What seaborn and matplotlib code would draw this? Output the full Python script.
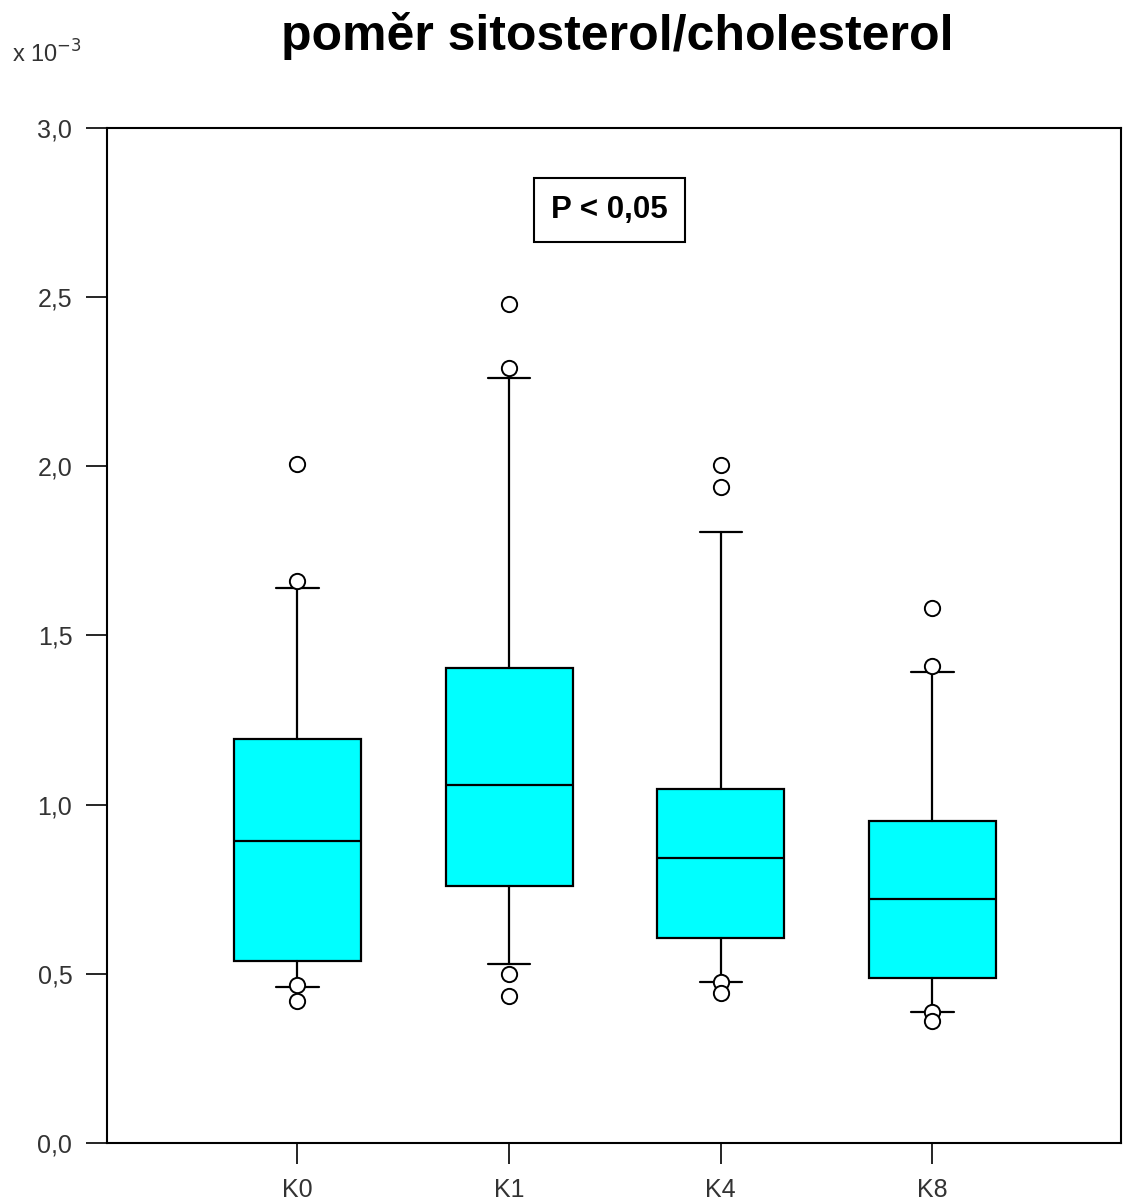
import matplotlib
matplotlib.use("Agg")
import matplotlib.pyplot as plt
import seaborn as sns

# Group labels and five-number summaries (values in units of 10^-3)
groups = ["K0", "K1", "K4", "K8"]
q1 = [0.539, 0.760, 0.606, 0.487]
median = [0.893, 1.058, 0.842, 0.721]
q3 = [1.194, 1.404, 1.046, 0.952]
whisker_low = [0.462, 0.528, 0.475, 0.386]
whisker_high = [1.641, 2.261, 1.805, 1.391]
outliers = [
    [2.007, 1.661, 0.467, 0.421],
    [2.480, 2.290, 0.499, 0.433],
    [2.004, 1.940, 0.477, 0.443],
    [1.580, 1.410, 0.388, 0.359],
]
y_ticks = [0.0, 0.5, 1.0, 1.5, 2.0, 2.5, 3.0]
y_tick_labels = ["0,0", "0,5", "1,0", "1,5", "2,0", "2,5", "3,0"]

sns.set_theme(style="white")
plt.rcParams["font.family"] = ["Liberation Sans", "DejaVu Sans"]

fig = plt.figure(figsize=(11.23, 12.04), dpi=100)
ax = fig.add_axes([0.0953, 0.0507, 0.9027, 0.843])

stats = []
for i, g in enumerate(groups):
    stats.append(dict(label=g, q1=q1[i], med=median[i], q3=q3[i],
                      whislo=whisker_low[i], whishi=whisker_high[i],
                      fliers=outliers[i]))

positions = list(range(len(groups)))
ax.bxp(stats, positions=positions, widths=0.6, patch_artist=True,
       boxprops=dict(facecolor="#00FFFF", edgecolor="black", linewidth=1.6),
       medianprops=dict(color="black", linewidth=1.6),
       whiskerprops=dict(color="black", linewidth=1.6),
       capprops=dict(color="black", linewidth=1.6),
       capwidths=0.2,
       flierprops=dict(marker="o", markersize=11, markerfacecolor="white",
                       markeredgecolor="black", markeredgewidth=1.4,
                       linestyle="none"))

ax.set_xlim(-0.9, 3.89)
ax.set_ylim(0, 3.0)
ax.set_yticks(y_ticks)
ax.set_yticklabels(y_tick_labels)
ax.set_xticks(positions)
ax.set_xticklabels(groups)

for side in ["left", "right", "top", "bottom"]:
    ax.spines[side].set_visible(True)
    ax.spines[side].set_color("black")
    ax.spines[side].set_linewidth(1.5)

ax.tick_params(axis="both", which="major", direction="out", length=15,
               width=1.2, color="black", labelcolor="#333333", labelsize=18,
               pad=10, left=True, bottom=True)
ax.grid(False)

ax.text(0.4956, 0.919, "P < 0,05", transform=ax.transAxes, ha="center",
        va="center", fontsize=22.5, fontweight="bold", color="black",
        bbox=dict(boxstyle="square,pad=0.55", facecolor="white",
                  edgecolor="black", linewidth=1.5))

fig.text(0.550, 0.970, "poměr sitosterol/cholesterol", ha="center",
         va="center", fontsize=36, fontweight="bold", color="black")
fig.text(0.011, 0.955, "x 10$^{-3}$", ha="left", va="center",
         fontsize=17, color="#333333")

fig.savefig("out.png", dpi=100)
